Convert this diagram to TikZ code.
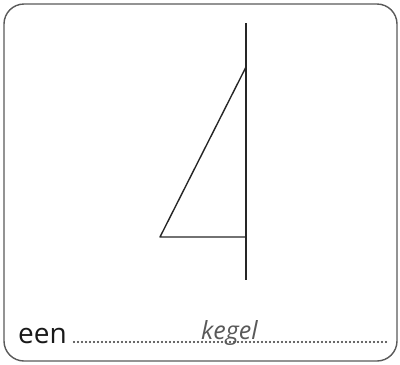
\documentclass[tikz,border=0pt]{standalone}
\usepackage{fontspec}
\setmainfont{Open Sans}
\begin{document}
\begin{tikzpicture}[x=1pt,y=-1pt]
		\useasboundingbox (0,0) rectangle (400,365);
		\draw[line width=1.4pt, color=black!65, rounded corners=20pt] (4,4) rectangle (397,361);
		
		\coordinate (top) at (246,23);
		\coordinate (bottom) at (246,280);
		\coordinate (apex) at (246,67);
		\coordinate (base) at (160,237);
		\coordinate (foot) at (246,237);
		
		\draw[line width=1.4pt, color=black!85] (top) -- (bottom);
		\draw[line width=1.4pt, color=black!85, line join=round] (apex) -- (base) -- (foot);
		
		\node[anchor=base west, inner sep=0pt, font=\fontsize{28}{30}\selectfont, color=black!90] (een) at (18,343) {een};
		\coordinate (dotstart) at (74,342);
		\coordinate (dotend) at (387,342);
		\draw[line width=2.4pt, line cap=round, dash pattern=on 0pt off 4pt, color=black!80] (dotstart) -- (dotend);
		\node[anchor=base west, inner sep=0pt, font=\fontsize{25}{27}\selectfont\itshape, color=black!65] (word) at (201,339) {kegel};
	\end{tikzpicture}
\end{document}
